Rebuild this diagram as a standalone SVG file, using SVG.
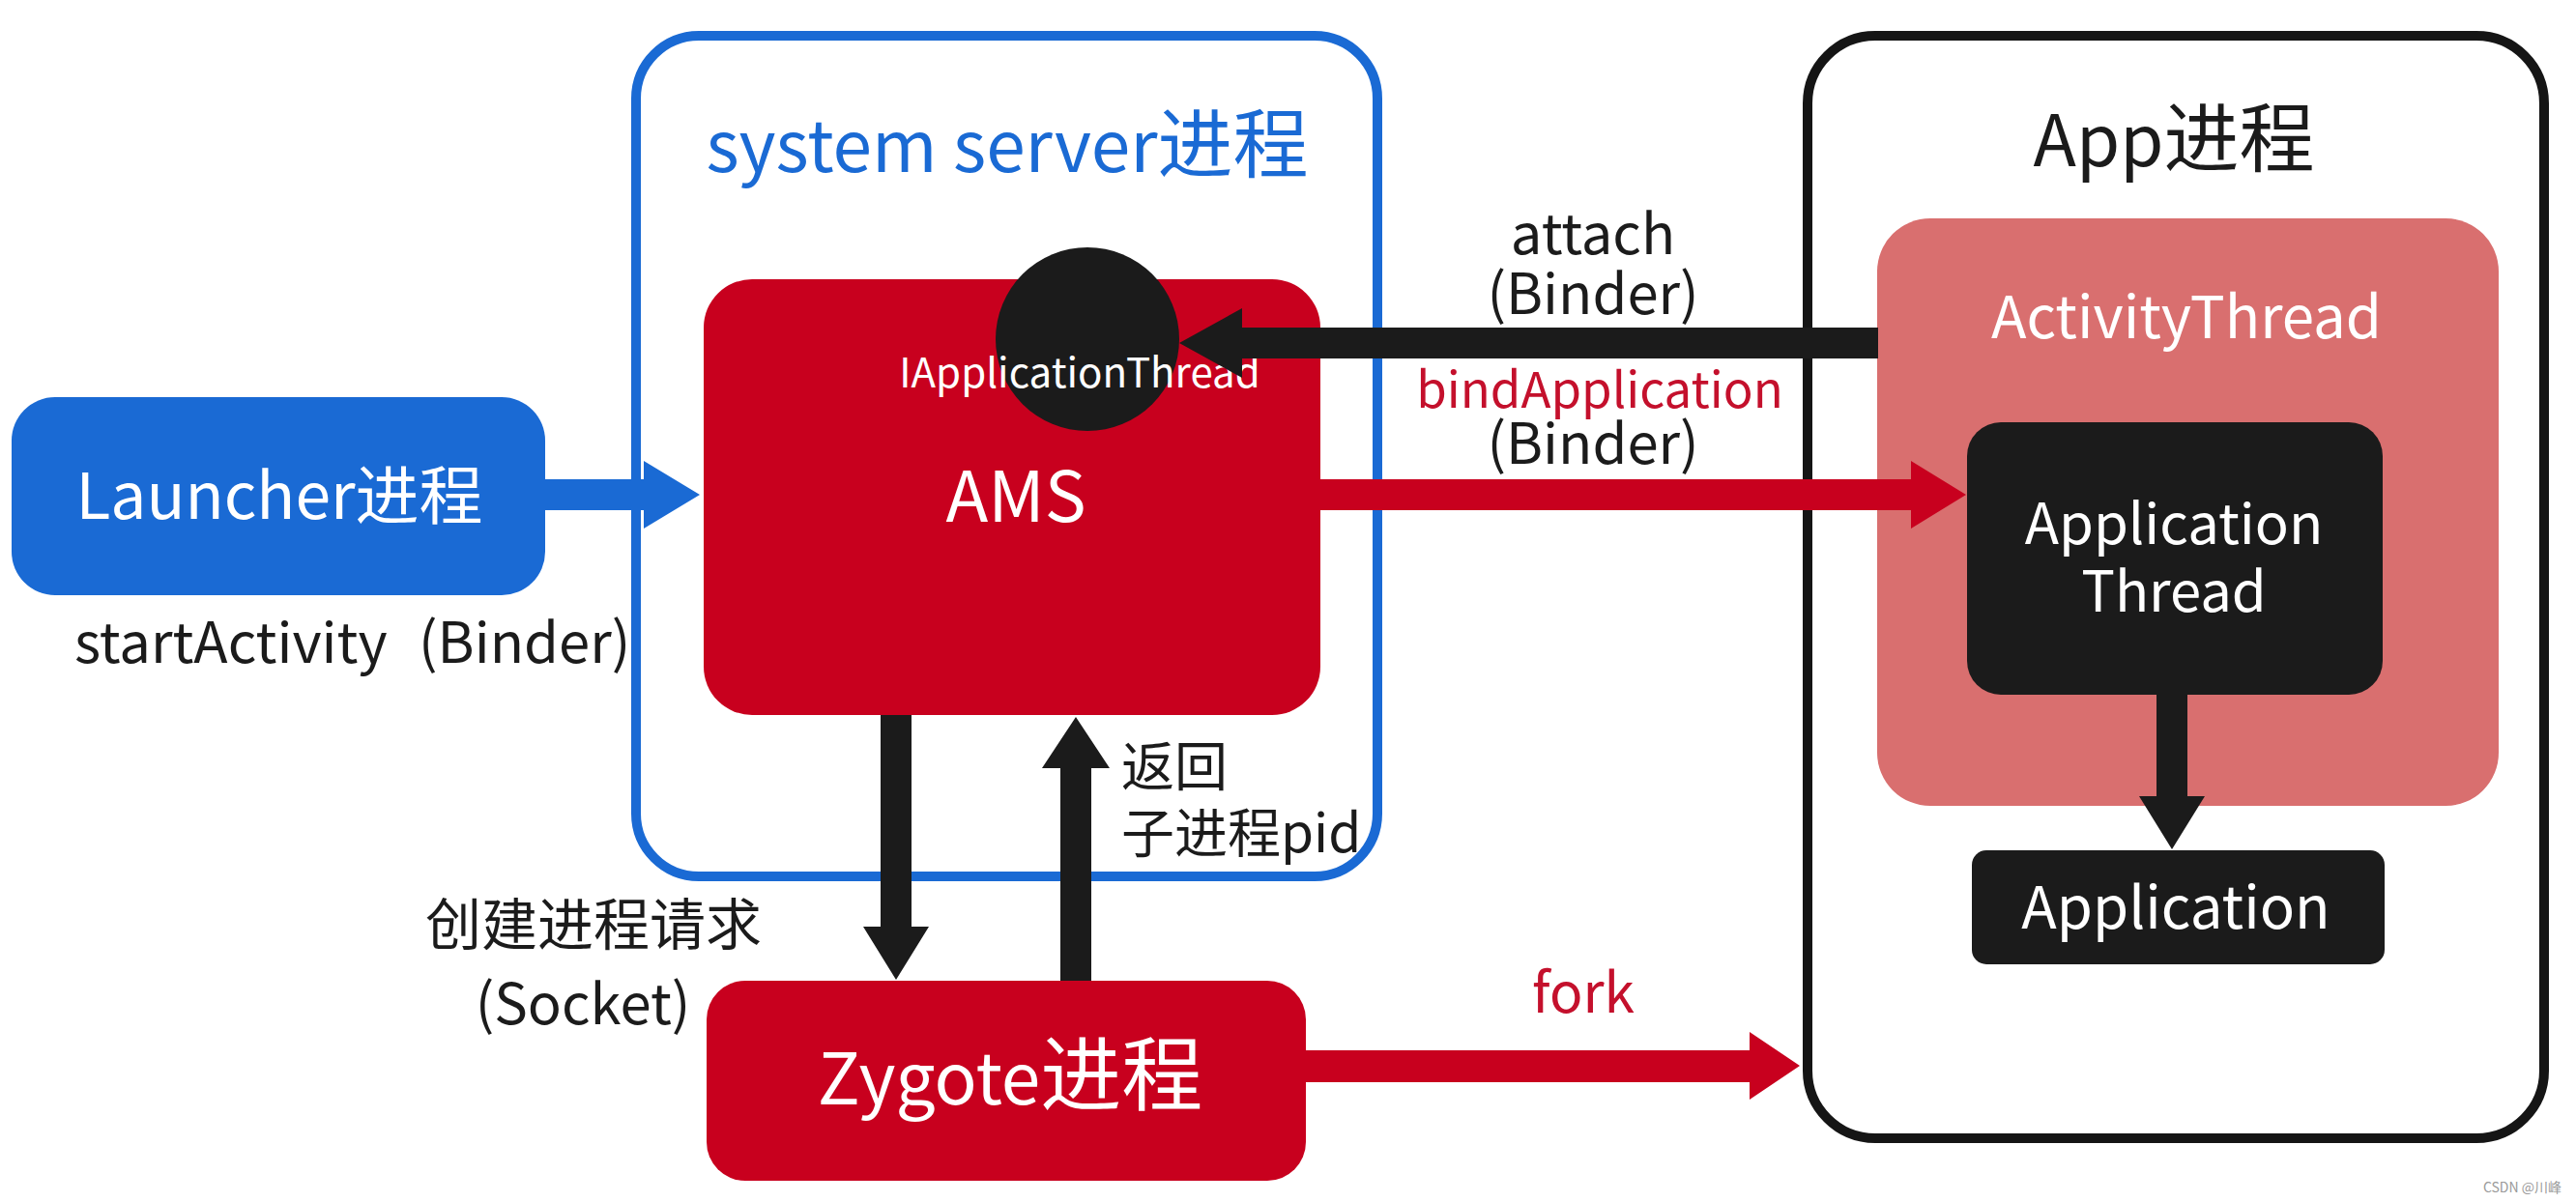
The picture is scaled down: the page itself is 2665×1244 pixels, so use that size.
<svg xmlns="http://www.w3.org/2000/svg" width="2665" height="1244" viewBox="0 0 2665 1244">
<style>
text{font-family:"Noto Sans CJK SC","Noto Sans",sans-serif;}
.w{fill:#ffffff;}
.k{fill:#1b1b1b;}
.r{fill:#c4102c;}
.c{text-anchor:middle;}
.blue{fill:#1a6ad4;}
.red{fill:#c8001e;}
.blk{fill:#1b1b1b;}
</style>
<rect width="2665" height="1244" fill="#ffffff"/>
<g id="system-server">
<rect x="658" y="37" width="767" height="870" rx="65" fill="none" stroke="#1a6ad4" stroke-width="10"/>
<text x="1042" y="178" class="c" font-size="73" fill="#1a6ad4">system server<tspan font-size="78">进程</tspan></text>
</g>
<g id="app-process">
<rect x="1870" y="37" width="762" height="1141" rx="70" fill="none" stroke="#151515" stroke-width="10"/>
<text x="2249" y="172" class="c k" font-size="73">App<tspan font-size="78">进程</tspan></text>
</g>
<g id="launcher">
<rect x="12" y="411" width="552" height="205" rx="45" class="blue"/>
<text x="289" y="537" class="c w" font-size="66">Launcher进程</text>
</g>
<text y="686" class="k" font-size="58"><tspan x="77">startActivity</tspan><tspan x="433">(Binder)</tspan></text>
<g id="ams">
<rect x="728" y="289" width="638" height="451" rx="50" class="red"/>
<text x="1051" y="540" class="c w" font-size="72">AMS</text>
</g>
<g id="iapplicationthread">
<circle cx="1125" cy="351" r="95" class="blk"/>
<text x="1117" y="401" class="c w" font-size="42">IApplicationThread</text>
</g>
<g id="zygote">
<rect x="731" y="1015" width="620" height="207" rx="40" class="red"/>
<text x="1045" y="1143" class="c w" font-size="73">Zygote<tspan font-size="84">进程</tspan></text>
</g>
<g id="activitythread">
<rect x="1942" y="226" width="643" height="608" rx="55" fill="#d96f6f"/>
<text x="2262" y="350" class="c w" font-size="60">ActivityThread</text>
</g>
<g id="applicationthread">
<rect x="2035" y="437" width="430" height="282" rx="35" class="blk"/>
<text class="c w" font-size="58"><tspan x="2249" y="563">Application</tspan><tspan x="2249" y="633">Thread</tspan></text>
</g>
<g id="application">
<rect x="2040" y="880" width="427" height="118" rx="15" class="blk"/>
<text x="2251" y="961" class="c w" font-size="60">Application</text>
</g>
<g id="connectors">
<polygon class="blue" points="564,496 666,496 666,477 724,512 666,547 666,528 564,528"/>
<polygon class="red" points="1366,496 1977,496 1977,477 2034,512 1977,547 1977,528 1366,528"/>
<polygon class="blk" points="1943,339 1285,339 1285,319 1220,355 1285,391 1285,371 1943,371"/>
<polygon class="blk" points="911,740 943,740 943,959 961,959 927,1014 893,959 911,959"/>
<polygon class="blk" points="1097,1015 1129,1015 1129,795 1148,795 1113,742 1078,795 1097,795"/>
<polygon class="blk" points="2231,719 2263,719 2263,824 2281,824 2247,879 2213,824 2231,824"/>
<polygon class="red" points="1351,1087 1810,1087 1810,1068 1862,1103 1810,1138 1810,1120 1351,1120"/>
<text class="c k" font-size="58"><tspan x="1648" y="263">attach</tspan><tspan x="1648" y="325">(Binder)</tspan></text>
<text class="c"><tspan x="1655" y="422" class="r" font-size="51">bindApplication</tspan><tspan x="1648" y="480" class="k" font-size="58">(Binder)</tspan></text>
<text class="k" font-size="55"><tspan x="1160" y="813">返回</tspan><tspan x="1160" y="882">子进程pid</tspan></text>
<text class="c k" font-size="58"><tspan x="614" y="978">创建进程请求</tspan><tspan x="603" y="1060">(Socket)</tspan></text>
<text x="1638" y="1048" class="c r" font-size="57">fork</text>
</g>
<text x="2650" y="1234" text-anchor="end" font-size="14" fill="#9a9a9a">CSDN @川峰</text>
</svg>
